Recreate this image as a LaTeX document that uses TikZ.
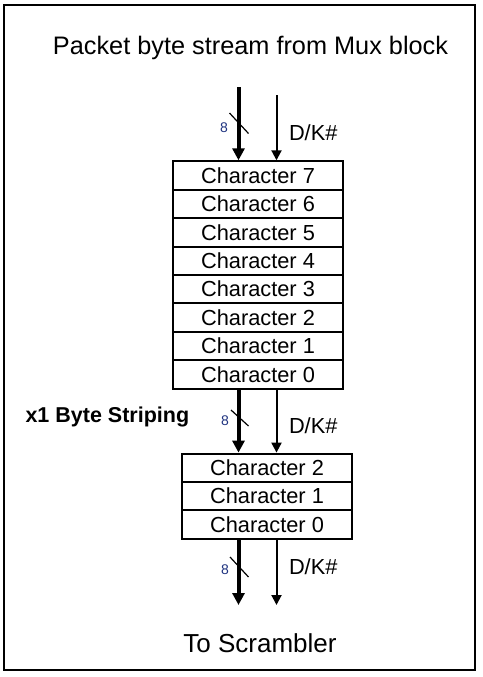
\documentclass[tikz,border=0pt]{standalone}
\usepackage{fontspec}
\setmainfont{Liberation Sans}
\usetikzlibrary{arrows.meta}
\definecolor{eightblue}{rgb}{0.12,0.2,0.5}

\begin{document}
\begin{tikzpicture}[x = 1pt, y = -1pt, line width = 2pt,
                      row/.style = {draw, minimum height = 28.4pt, inner sep = 0pt, font = \fontsize{21.8}{24}\selectfont},
                      toprow/.style = {row, minimum width = 170pt},
                      lowrow/.style = {row, minimum width = 170pt},
                      bus/.style = {line width = 4pt, -{Triangle[width = 12pt, length = 12pt]}},
                      flag/.style = {line width = 2pt, -{Triangle[width = 10pt, length = 10pt]}},
                      eight/.style = {text = eightblue, font = \fontsize{14}{15}\selectfont, inner sep = 0pt},
                      dk/.style = {font = \fontsize{21.8}{24}\selectfont, inner sep = 0pt, anchor = west},
                      big/.style = {font = \fontsize{25.3}{28}\selectfont, inner sep = 0pt}]
    \useasboundingbox (0, 0) rectangle (482, 677);
    \draw (4, 5) rectangle (475, 670);

    \node [big] (src) at (250.5, 48) {Packet byte stream from Mux block};
    \node [big, font = \fontsize{26}{28}\selectfont] (dst) at (260, 643) {To Scrambler};

    \node [toprow] (c7) at (258, 175.5) {Character 7};
    \node [toprow] (c6) at (258, 203.9) {Character 6};
    \node [toprow] (c5) at (258, 232.3) {Character 5};
    \node [toprow] (c4) at (258, 260.7) {Character 4};
    \node [toprow] (c3) at (258, 289.1) {Character 3};
    \node [toprow] (c2) at (258, 317.5) {Character 2};
    \node [toprow] (c1) at (258, 345.9) {Character 1};
    \node [toprow] (c0) at (258, 374.3) {Character 0};

    \node [lowrow] (s2) at (267, 467.8) {Character 2};
    \node [lowrow] (s1) at (267, 496.2) {Character 1};
    \node [lowrow] (s0) at (267, 524.6) {Character 0};

    \coordinate (data) at (238.5, 87);
    \coordinate (ctrl) at (276.5, 95);
    \coordinate (dataout) at (238.5, 605);
    \coordinate (ctrlout) at (276.5, 605);

    \draw [bus] (data) -- (data |- c7.north);
    \draw [flag] (ctrl) -- (ctrl |- c7.north);
    \draw [bus] (c0.south -| data) -- (s2.north -| data);
    \draw [flag] (c0.south -| ctrl) -- (s2.north -| ctrl);
    \draw [bus] (s0.south -| data) -- (dataout);
    \draw [flag] (s0.south -| ctrl) -- (ctrlout);

    \draw [line width = 1.2pt] (229.5, 113) -- (248.5, 133.5);
    \draw [line width = 1.2pt] (231, 410) -- (248.5, 426);
    \draw [line width = 1.2pt] (230, 557) -- (248.5, 577);

    \node [eight] (w1) at (224, 128) {8};
    \node [eight] (w2) at (225, 421) {8};
    \node [eight] (w3) at (225, 570) {8};

    \node [dk] (k1) at (288, 133) {D/K\#};
    \node [dk] (k2) at (288, 426) {D/K\#};
    \node [dk] (k3) at (288, 567) {D/K\#};

    \node [font = \bfseries\fontsize{21.5}{24}\selectfont, inner sep = 0pt, anchor = west] (strip) at (24.5, 417) {x1 Byte Striping};
\end{tikzpicture}
\end{document}
